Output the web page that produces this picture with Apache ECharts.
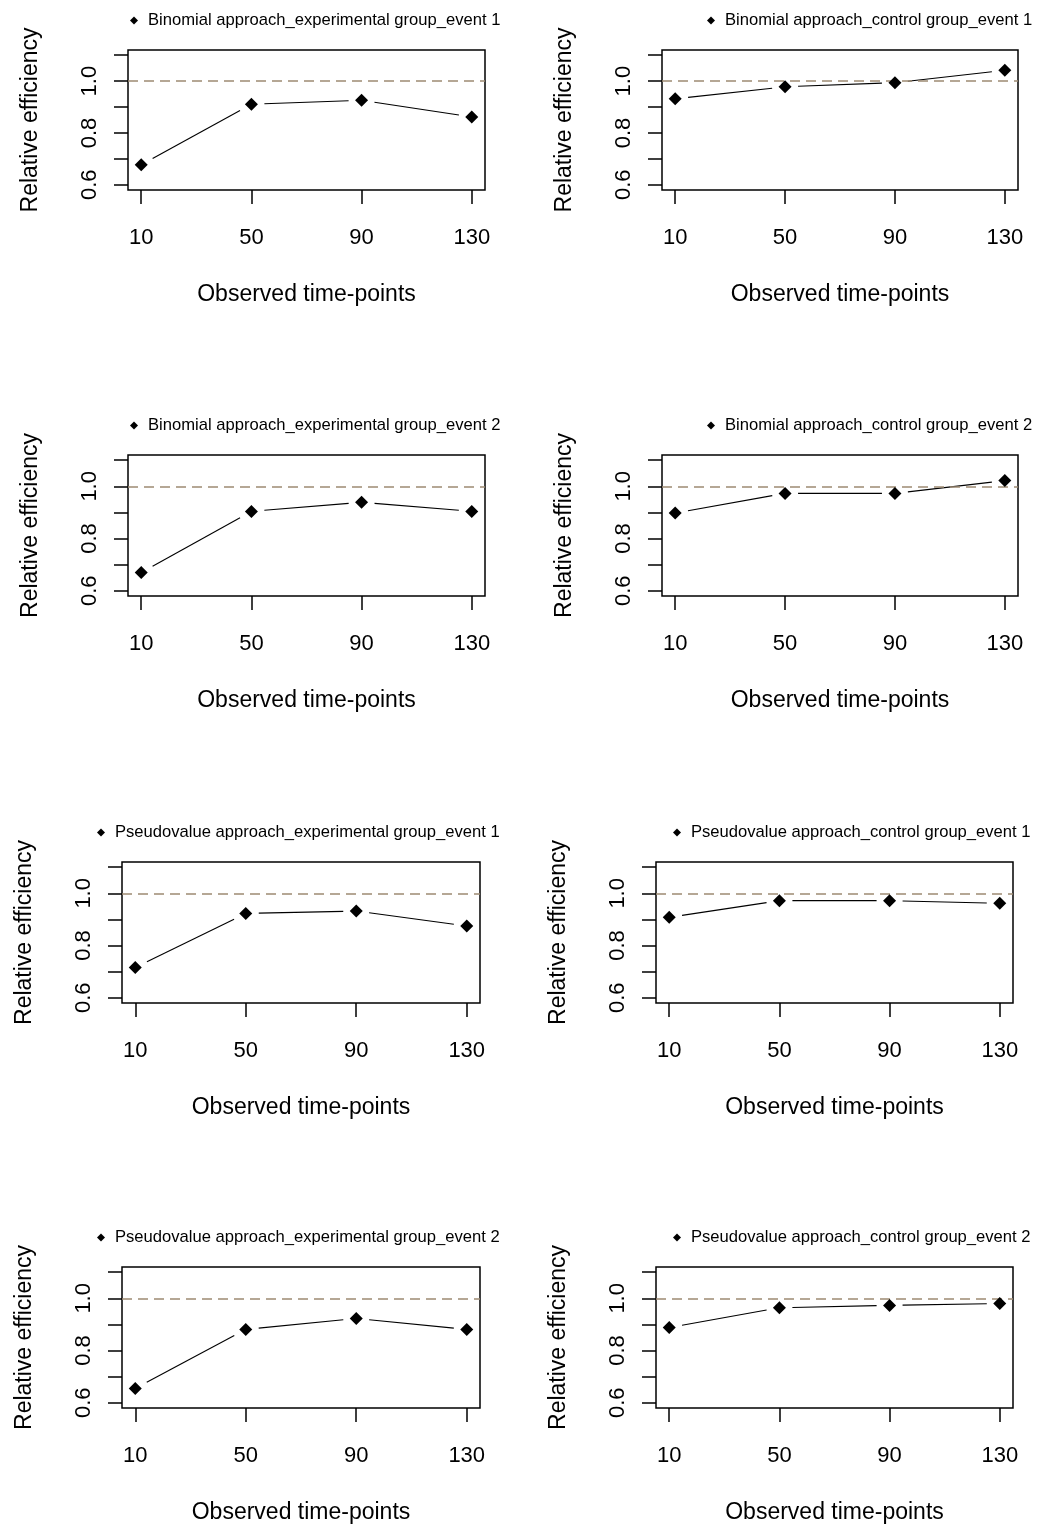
<!DOCTYPE html>
<html lang="en">
<head>
    <meta charset="UTF-8">
    <title>Relative efficiency</title>
    <style>
        * { padding: 0; margin: 0; }
        body { background: #fff; }
    </style>
    <script src="https://cdn.jsdelivr.net/npm/echarts@6/dist/echarts.min.js"></script>
</head>
<body>
    <div id="main" style="width:1039px;height:1525px;"></div>
    <script type="text/javascript">
        // data
        var timePoints = [10, 50, 90, 130];
        var yTicks = [0.6, 0.7, 0.8, 0.9, 1.0, 1.1];
        var yTickLabels = [0.6, 0.8, 1.0];
        var reference = 1.0;

        var panelTitles = [
            "Binomial approach_experimental group_event 1",
            "Binomial approach_control group_event 1",
            "Binomial approach_experimental group_event 2",
            "Binomial approach_control group_event 2",
            "Pseudovalue approach_experimental group_event 1",
            "Pseudovalue approach_control group_event 1",
            "Pseudovalue approach_experimental group_event 2",
            "Pseudovalue approach_control group_event 2"
        ];

        var binExpEvent1 = [0.677, 0.911, 0.926, 0.862];
        var binCtrlEvent1 = [0.932, 0.978, 0.994, 1.042];
        var binExpEvent2 = [0.670, 0.904, 0.939, 0.904];
        var binCtrlEvent2 = [0.898, 0.973, 0.973, 1.022];
        var pvExpEvent1 = [0.716, 0.923, 0.932, 0.875];
        var pvCtrlEvent1 = [0.908, 0.972, 0.972, 0.962];
        var pvExpEvent2 = [0.655, 0.881, 0.923, 0.881];
        var pvCtrlEvent2 = [0.888, 0.964, 0.973, 0.980];

        var panelValues = [binExpEvent1, binCtrlEvent1, binExpEvent2, binCtrlEvent2,
                           pvExpEvent1, pvCtrlEvent1, pvExpEvent2, pvCtrlEvent2];

        // plot boxes (px) and legend spots
        var boxes = [
            { left: 128, top: 50, width: 357, height: 140 },
            { left: 662, top: 50, width: 356, height: 140 },
            { left: 128, top: 455, width: 357, height: 141 },
            { left: 662, top: 455, width: 356, height: 141 },
            { left: 122, top: 862, width: 358, height: 141 },
            { left: 656, top: 862, width: 357, height: 141 },
            { left: 122, top: 1267, width: 358, height: 141 },
            { left: 656, top: 1267, width: 357, height: 141 }
        ];
        var legendPos = [
            { left: 125, top: 7 }, { left: 702, top: 7 },
            { left: 125, top: 412 }, { left: 702, top: 412 },
            { left: 92, top: 819 }, { left: 668, top: 819 },
            { left: 92, top: 1224 }, { left: 668, top: 1224 }
        ];

        var font = "Liberation Sans, Arial, sans-serif";
        var GAP = 13; // px left open round each point, like R's type = "b"

        // segment between two points, shortened at both ends
        function renderSegment(params, api) {
            var a = api.coord([api.value(0), api.value(1)]);
            var b = api.coord([api.value(2), api.value(3)]);
            var dx = b[0] - a[0], dy = b[1] - a[1];
            var len = Math.sqrt(dx * dx + dy * dy);
            if (len <= 2 * GAP) return null;
            var ux = dx / len, uy = dy / len;
            return {
                type: 'line',
                shape: {
                    x1: a[0] + ux * GAP, y1: a[1] + uy * GAP,
                    x2: b[0] - ux * GAP, y2: b[1] - uy * GAP
                },
                style: { stroke: '#000', lineWidth: 1.1 }
            };
        }

        var myChart = echarts.init(document.getElementById('main'));

        var grids = [], xAxes = [], yAxes = [], series = [], legends = [];

        panelValues.forEach(function (vals, i) {
            var pts = timePoints.map(function (t, j) { return [t, vals[j]]; });
            var segs = pts.slice(0, -1).map(function (p, j) {
                return [p[0], p[1], pts[j + 1][0], pts[j + 1][1]];
            });
            var b = boxes[i];

            grids.push({
                left: b.left, top: b.top, width: b.width, height: b.height,
                show: true, borderColor: '#000', borderWidth: 1.5,
                backgroundColor: 'transparent'
            });

            xAxes.push({
                gridIndex: i,
                type: 'value',
                min: 5.2,
                max: 134.8,
                axisLine: { show: false },
                axisTick: {
                    show: true, customValues: timePoints, length: 14,
                    lineStyle: { color: '#000', width: 1.5 }
                },
                axisLabel: {
                    customValues: timePoints, fontSize: 22, color: '#000',
                    fontFamily: font, margin: 37
                },
                splitLine: { show: false },
                name: 'Observed time-points',
                nameLocation: 'middle',
                nameGap: 93,
                nameTextStyle: { fontSize: 23, color: '#000', fontFamily: font }
            });

            yAxes.push({
                gridIndex: i,
                type: 'value',
                min: 0.58,
                max: 1.12,
                axisLine: { show: false },
                axisTick: {
                    show: true, customValues: yTicks, length: 14,
                    lineStyle: { color: '#000', width: 1.5 }
                },
                axisLabel: {
                    customValues: yTickLabels, rotate: 90, fontSize: 22,
                    color: '#000', fontFamily: font, margin: 27,
                    formatter: function (v) { return v.toFixed(1); }
                },
                splitLine: { show: false },
                name: 'Relative efficiency',
                nameLocation: 'middle',
                nameGap: 86,
                nameTextStyle: { fontSize: 23, color: '#000', fontFamily: font }
            });

            // connecting segments with gaps at the points
            series.push({
                type: 'custom', xAxisIndex: i, yAxisIndex: i,
                data: segs, encode: { x: [0, 2], y: [1, 3] },
                renderItem: renderSegment, silent: true, z: 2
            });
            // reference line at 1
            series.push({
                type: 'line', xAxisIndex: i, yAxisIndex: i, data: [], z: 4,
                markLine: {
                    silent: true, symbol: 'none', label: { show: false },
                    lineStyle: { color: '#9d8b73', type: [10, 6], width: 1.6 },
                    data: [{ yAxis: reference }]
                }
            });
            // points
            series.push({
                type: 'scatter', xAxisIndex: i, yAxisIndex: i, name: panelTitles[i],
                data: pts, symbol: 'diamond', symbolSize: 13, z: 5,
                itemStyle: { color: '#000', opacity: 1 }
            });

            legends.push({
                left: legendPos[i].left, top: legendPos[i].top,
                data: [{ name: panelTitles[i], icon: 'diamond' }],
                itemWidth: 8, itemHeight: 8, selectedMode: false,
                itemStyle: { opacity: 1 },
                textStyle: { fontSize: 16.6, color: '#000', fontFamily: font, padding: [0, 0, 0, 5] }
            });
        });

        var option = {
            backgroundColor: '#fff',
            animation: false,
            grid: grids,
            xAxis: xAxes,
            yAxis: yAxes,
            legend: legends,
            series: series
        };

        myChart.setOption(option);
    </script>
</body>
</html>
